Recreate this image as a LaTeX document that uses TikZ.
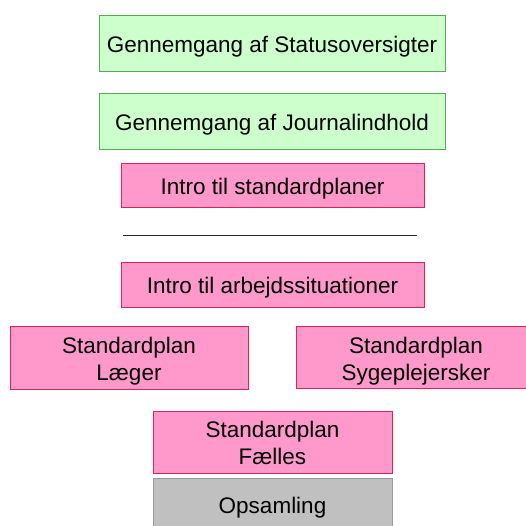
\documentclass[tikz,border=0pt]{standalone}
\usepackage{fontspec}
\setmainfont{Liberation Sans}
\definecolor{greenfill}{HTML}{CCFFCC}
\definecolor{greenline}{HTML}{55AA55}
\definecolor{pinkfill}{HTML}{FF99CC}
\definecolor{pinkline}{HTML}{DD2255}
\definecolor{grayfill}{HTML}{C0C0C0}
\definecolor{grayline}{HTML}{999999}
\tikzset{
  label font/.style={font=\fontsize{22.5}{27}\selectfont, text=black},
  box/.style={draw, line width=1pt, inner sep=0pt, align=center,
    label font, text height=18pt, text depth=0pt},
  twolines/.style={text height=45pt},
  greenbox/.style={box, fill=greenfill, draw=greenline},
  pinkbox/.style={box, fill=pinkfill, draw=pinkline},
  graybox/.style={box, fill=grayfill, draw=grayline},
}
\begin{document}
\begin{tikzpicture}[x=1pt,y=-1pt]
\useasboundingbox (0,0) rectangle (526,525);
\node[greenbox, minimum width=346, minimum height=56] (status) at (272,43) {Gennemgang af Statusoversigter};
\node[greenbox, minimum width=346, minimum height=56] (journal) at (272,121) {Gennemgang af Journalindhold};
\node[pinkbox, minimum width=303, minimum height=44] (introstd) at (272.5,185) {Intro til standardplaner};
\coordinate (sepL) at (123,235);
\coordinate (sepR) at (417,235);
\draw[line width=0.9pt, black!85] (sepL) -- (sepR);
\node[pinkbox, minimum width=303, minimum height=45] (introarb) at (272.5,284.5) {Intro til arbejdssituationer};
\node[pinkbox, twolines, minimum width=238, minimum height=63] (laeger) at (129,357.5) {Standardplan\\Læger};
\node[pinkbox, twolines, minimum width=240, minimum height=62] (syge) at (416,357.5) {Standardplan\\Sygeplejersker};
\node[pinkbox, twolines, minimum width=239, minimum height=62] (faelles) at (272.5,442) {Standardplan\\Fælles};
\node[graybox, minimum width=239, minimum height=52] (opsamling) at (272.5,504) {};
\node[label font, anchor=base] (opsamlingtext) at (272.5,513) {Opsamling};
\end{tikzpicture}
\end{document}
